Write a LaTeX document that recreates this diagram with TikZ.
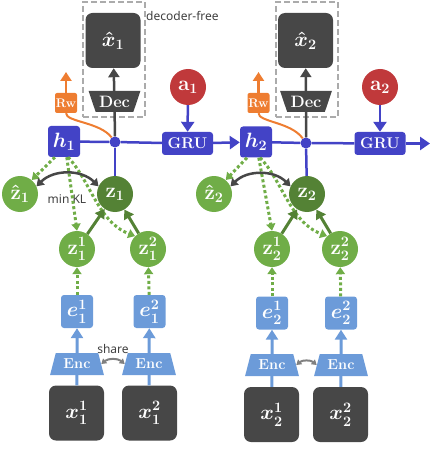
\documentclass[tikz,border=0pt]{standalone}
\usepackage{amsmath,amssymb,bm}
\usepackage{fontspec}
\newfontfamily\labelfont{Noto Sans}
\usepackage{tikz}
\usetikzlibrary{arrows,arrows.meta,shapes.geometric}
\definecolor{hblue}{HTML}{4343C6}
\definecolor{eblue}{HTML}{6C9BD9}
\definecolor{boxgray}{HTML}{474747}
\definecolor{zgreen}{HTML}{70AD47}
\definecolor{zdkgreen}{HTML}{548235}
\definecolor{actred}{HTML}{C0393B}
\definecolor{rworange}{HTML}{EE7D31}
\definecolor{dashgray}{HTML}{ABABAB}
\definecolor{txtgray}{HTML}{404040}
\newcommand{\nodemath}{\fontsize{21}{22}\selectfont\boldmath\bfseries}
\tikzstyle{darkbox}=[fill=boxgray,rounded corners=7pt,minimum width=55pt,minimum height=55pt,inner sep=0pt,text=white,font=\nodemath]
\tikzstyle{hbox}=[fill=hblue,rounded corners=3pt,minimum width=32pt,minimum height=31pt,inner sep=0pt,text=white,font=\nodemath]
\tikzstyle{grubox}=[fill=hblue,rounded corners=3pt,minimum width=51pt,minimum height=23pt,inner sep=0pt,text=white,font=\fontsize{15.5}{17}\selectfont\bfseries]
\tikzstyle{ebox}=[fill=eblue,rounded corners=3pt,minimum width=32pt,minimum height=33pt,inner sep=0pt,text=white,font=\nodemath]
\tikzstyle{rwbox}=[fill=rworange,rounded corners=2pt,minimum width=22pt,minimum height=20pt,inner sep=0pt,text=white,font=\fontsize{12.5}{14}\selectfont\bfseries]
\tikzstyle{encbox}=[trapezium,trapezium left angle=70,trapezium right angle=70,trapezium stretches=true,minimum width=54pt,minimum height=22pt,inner sep=0pt,fill=eblue,text=white,font=\fontsize{14.5}{16}\selectfont\bfseries]
\tikzstyle{decbox}=[trapezium,trapezium left angle=63,trapezium right angle=63,trapezium stretches=true,shape border rotate=180,minimum width=52pt,minimum height=21pt,inner sep=0pt,fill=boxgray,text=white,font=\fontsize{16.5}{18}\selectfont\bfseries]
\tikzstyle{zlight}=[circle,fill=zgreen,minimum size=36pt,inner sep=0pt,text=white,font=\nodemath]
\tikzstyle{zdark}=[circle,fill=zdkgreen,minimum size=36pt,inner sep=0pt,text=white,font=\nodemath]
\tikzstyle{actnode}=[circle,fill=actred,minimum size=36pt,inner sep=0pt,text=white,font=\nodemath]
\tikzstyle{joint}=[circle,fill=hblue,minimum size=11pt,inner sep=0pt]
\tikzstyle{freebox}=[draw=dashgray,line width=2pt,dash pattern=on 6pt off 3pt,minimum width=62pt,minimum height=115pt]
\tikzstyle{labeltext}=[text=txtgray,font=\labelfont\fontsize{12}{14}\selectfont,inner sep=0pt]
\tikzstyle{hline}=[hblue,line width=2.5pt]
\tikzstyle{blarrow}=[hblue,line width=2.5pt,-{Triangle[length=10pt,width=13pt]}]
\tikzstyle{darkline}=[boxgray,line width=2.5pt]
\tikzstyle{darkarrow}=[boxgray,line width=2.5pt,-{Triangle[length=9pt,width=11pt]}]
\tikzstyle{orarrow}=[rworange,line width=2.5pt,-{Triangle[length=9pt,width=11pt]}]
\tikzstyle{orline}=[rworange,line width=2pt]
\tikzstyle{dotarrow}=[zgreen,line width=3pt,dash pattern=on 3pt off 2.5pt,-{Triangle[length=7pt,width=9pt]}]
\tikzstyle{zarrow}=[zdkgreen,line width=3pt,-{Triangle[length=9pt,width=11pt]}]
\tikzstyle{klarrow}=[boxgray,line width=2.5pt,{Triangle[length=7pt,width=9pt]}-{Triangle[length=7pt,width=9pt]}]
\tikzstyle{sharearrow}=[gray,line width=2pt,{Triangle[length=5pt,width=6pt]}-{Triangle[length=5pt,width=6pt]}]
\tikzstyle{ebarrow}=[eblue,line width=3pt,-{Triangle[length=10pt,width=12pt]}]
\tikzstyle{ebline}=[eblue,line width=3pt]

\begin{document}
\begin{tikzpicture}[x=1pt,y=1pt]
\useasboundingbox (0,0) rectangle (436,-449);
% step 1
\node[freebox] (free1) at (114,-59.5) {};
\node[darkbox] (xh1) at (113,-40.5) {$\hat{x}_1$};
\node[decbox] (dec1) at (114.5,-101.5) {Dec};
\node[joint] (j1) at (115,-142) {};
\node[hbox] (h1) at (64,-141.5) {$h_1$};
\node[grubox] (gru1) at (187.5,-143.5) {GRU};
\node[actnode] (a1) at (188,-87) {$\mathbf{a}_1$};
\node[rwbox] (rw1) at (66,-103) {Rw};
\coordinate (r1) at (66,-72);
\node[zlight] (zh1) at (20,-194) {$\hat{\mathbf{z}}_1$};
\node[zdark] (z1) at (115,-194) {$\mathbf{z}_1$};
\node[zlight] (z11) at (77,-249) {$\mathbf{z}_1^1$};
\node[zlight] (z12) at (148,-249) {$\mathbf{z}_1^2$};
\node[ebox] (e11) at (77,-311.5) {$e_1^1$};
\node[ebox] (e12) at (149.5,-311.5) {$e_1^2$};
\node[encbox] (enc11) at (77,-364) {Enc};
\node[encbox] (enc12) at (149,-364) {Enc};
\node[darkbox] (x11) at (76.5,-413) {$x_1^1$};
\node[darkbox] (x12) at (149.5,-413) {$x_1^2$};
\node[labeltext,anchor=west] (dfree) at (146,-16) {decoder-free};
\node[labeltext] (kl1) at (67,-199) {min KL};
\node[labeltext] (sh1) at (113,-349) {share};
% step 2
\node[freebox] (free2) at (307,-59.5) {};
\node[darkbox] (xh2) at (305.5,-40.5) {$\hat{x}_2$};
\node[decbox] (dec2) at (306,-101.5) {Dec};
\node[joint] (j2) at (306,-143) {};
\node[hbox] (h2) at (256,-142) {$h_2$};
\node[grubox] (gru2) at (380,-143.5) {GRU};
\coordinate (out2) at (430,-143.5);
\node[actnode] (a2) at (380,-87) {$\mathbf{a}_2$};
\node[rwbox] (rw2) at (258.5,-103) {Rw};
\coordinate (r2) at (258.5,-72);
\node[zlight] (zh2) at (214,-194) {$\hat{\mathbf{z}}_2$};
\node[zdark] (z2) at (307,-194) {$\mathbf{z}_2$};
\node[zlight] (z21) at (272,-249) {$\mathbf{z}_2^1$};
\node[zlight] (z22) at (340,-249) {$\mathbf{z}_2^2$};
\node[ebox] (e21) at (272,-313) {$e_2^1$};
\node[ebox] (e22) at (341,-313) {$e_2^2$};
\node[encbox] (enc21) at (272,-365) {Enc};
\node[encbox] (enc22) at (341,-365) {Enc};
\node[darkbox] (x21) at (271.5,-414.5) {$x_2^1$};
\node[darkbox] (x22) at (340.5,-414.5) {$x_2^2$};

\draw[hline] (h1) -- (j1) -- (gru1);
\draw[hline] (j1) -- (z1);
\draw[darkline] (dec1) -- (j1);
\draw[darkarrow] (dec1) -- (xh1);
\draw[blarrow] (a1) -- (gru1);
\draw[blarrow] (gru1) -- (h2);
\draw[orarrow] (rw1) -- (r1);
\draw[orline] (rw1.south) .. controls (66,-122) and (100,-122) .. (j1);
\draw[dotarrow] (h1.240) -- (zh1.50);
\draw[dotarrow] (h1.280) -- (z11.north);
\draw[dotarrow] ([xshift=4pt]h1.south) .. controls (90,-180) and (98,-222) .. (z12.135);
\draw[klarrow] (zh1.25) to[bend left=45] (z1.155);
\draw[zarrow] (z11) -- (z1);
\draw[zarrow] (z12) -- (z1);
\draw[dotarrow] (e11) -- (z11);
\draw[dotarrow] (e12) -- (z12);
\draw[ebarrow] (enc11) -- (e11);
\draw[ebarrow] (enc12) -- (e12);
\draw[ebline] (x11) -- (enc11);
\draw[ebline] (x12) -- (enc12);
\draw[sharearrow] (enc11.east) to[bend left=40] (enc12.west);

\draw[hline] (h2) -- (j2) -- (gru2);
\draw[hline] (j2) -- (z2);
\draw[blarrow] (gru2) -- (out2);
\draw[darkline] (dec2) -- (j2);
\draw[darkarrow] (dec2) -- (xh2);
\draw[blarrow] (a2) -- (gru2);
\draw[orarrow] (rw2) -- (r2);
\draw[orline] (rw2.south) .. controls (258.5,-122) and (291,-122) .. (j2);
\draw[dotarrow] (h2.240) -- (zh2.50);
\draw[dotarrow] (h2.280) -- (z21.north);
\draw[dotarrow] ([xshift=4pt]h2.south) .. controls (282,-180) and (290,-222) .. (z22.135);
\draw[klarrow] (zh2.25) to[bend left=45] (z2.155);
\draw[zarrow] (z21) -- (z2);
\draw[zarrow] (z22) -- (z2);
\draw[dotarrow] (e21) -- (z21);
\draw[dotarrow] (e22) -- (z22);
\draw[ebarrow] (enc21) -- (e21);
\draw[ebarrow] (enc22) -- (e22);
\draw[ebline] (x21) -- (enc21);
\draw[ebline] (x22) -- (enc22);
\draw[sharearrow] (enc21.east) to[bend left=40] (enc22.west);
\end{tikzpicture}
\end{document}
